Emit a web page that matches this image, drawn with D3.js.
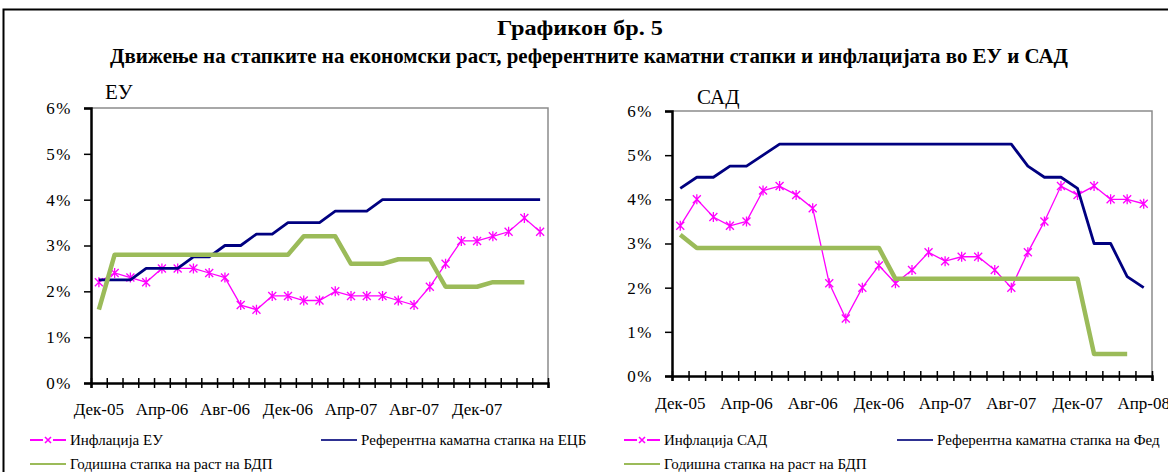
<!DOCTYPE html>
<html>
<head>
<meta charset="utf-8">
<script src="https://cdn.jsdelivr.net/npm/d3@7"></script>
<style>
  body { margin: 0; background: #fff; }
</style>
</head>
<body>
<svg id="canvas" width="1168" height="472"></svg>
<script>
const width = 1168;
const height = 472;

// monthly categories, Dec-05 .. Apr-08
const months = ["Дек-05","Јан-06","Фев-06","Мар-06","Апр-06","Мај-06","Јун-06","Јул-06","Авг-06","Сеп-06","Окт-06","Ное-06",
  "Дек-06","Јан-07","Фев-07","Мар-07","Апр-07","Мај-07","Јун-07","Јул-07","Авг-07","Сеп-07","Окт-07","Ное-07",
  "Дек-07","Јан-08","Фев-08","Мар-08","Апр-08"];

const euLabels = ["Дек-05","Апр-06","Авг-06","Дек-06","Апр-07","Авг-07","Дек-07"];
const usLabels = ["Дек-05","Апр-06","Авг-06","Дек-06","Апр-07","Авг-07","Дек-07","Апр-08"];
const yTicks = [0, 1, 2, 3, 4, 5, 6];

// ЕУ
const euInflation = [2.2,2.4,2.3,2.2,2.5,2.5,2.5,2.4,2.3,1.7,1.6,1.9,1.9,1.8,1.8,2.0,1.9,1.9,1.9,1.8,1.7,2.1,2.6,3.1,3.1,3.2,3.3,3.6,3.3];
const ecbRate = [2.25,2.25,2.25,2.5,2.5,2.5,2.75,2.75,3.0,3.0,3.25,3.25,3.5,3.5,3.5,3.75,3.75,3.75,4,4,4,4,4,4,4,4,4,4,4];
const euGdp = [1.6,2.8,2.8,2.8,2.8,2.8,2.8,2.8,2.8,2.8,2.8,2.8,2.8,3.2,3.2,3.2,2.6,2.6,2.6,2.7,2.7,2.7,2.1,2.1,2.1,2.2,2.2,2.2,null];

// САД
const usInflation = [3.4,4.0,3.6,3.4,3.5,4.2,4.3,4.1,3.8,2.1,1.3,2.0,2.5,2.1,2.4,2.8,2.6,2.7,2.7,2.4,2.0,2.8,3.5,4.3,4.1,4.3,4.0,4.0,3.9];
const fedRate = [4.25,4.5,4.5,4.75,4.75,5.0,5.25,5.25,5.25,5.25,5.25,5.25,5.25,5.25,5.25,5.25,5.25,5.25,5.25,5.25,5.25,4.75,4.5,4.5,4.25,3.0,3.0,2.25,2.0];
const usGdp = [3.2,2.9,2.9,2.9,2.9,2.9,2.9,2.9,2.9,2.9,2.9,2.9,2.9,2.2,2.2,2.2,2.2,2.2,2.2,2.2,2.2,2.2,2.2,2.2,2.2,0.5,0.5,0.5,null];

const pink = "#ff00ff";
const navy = "#000080";
const green = "#9bbb59";
const serif = "'Liberation Serif', 'Times New Roman', serif";

const svg = d3.select("#canvas");

// outer frame (runs off the right and bottom edge)
svg.append("rect")
  .attr("x", 3.5).attr("y", 9.5)
  .attr("width", 1300).attr("height", 600)
  .attr("fill", "none").attr("stroke", "#000").attr("stroke-width", 2);

svg.append("text")
  .attr("x", 580).attr("y", 35)
  .attr("text-anchor", "middle")
  .attr("font-size", 21).attr("font-weight", "bold")
  .attr("textLength", 166).attr("lengthAdjust", "spacingAndGlyphs")
  .text("Графикон бр. 5");

svg.append("text")
  .attr("x", 589).attr("y", 63)
  .attr("text-anchor", "middle")
  .attr("font-size", 21).attr("font-weight", "bold")
  .attr("textLength", 958).attr("lengthAdjust", "spacingAndGlyphs")
  .text("Движење на стапките на економски раст, референтните каматни стапки и инфлацијата во ЕУ и САД");

function starPath(r){
  return `M${-r},${-r}L${r},${r}M${-r},${r}L${r},${-r}M0,${-r-1}L0,${r+1}`;
}

function drawPanel(p){

  const g = svg.append("g");

  const x = d3.scaleBand().domain(months).range([p.left, p.right]);
  const y = d3.scaleLinear().domain([0, 6]).range([p.bottom, p.top]);
  const cx = d => x(d) + x.bandwidth()/2;

  // plot border: gray top and right
  g.append("path")
    .attr("d", `M${p.left},${p.top}H${p.right}V${p.bottom}`)
    .attr("fill", "none").attr("stroke", "#8c8c8c").attr("stroke-width", 1.5);

  // y axis
  const yAxis = g.append("g")
    .attr("transform", `translate(${p.left},0)`)
    .call(d3.axisLeft(y).tickValues(yTicks).tickSize(7).tickPadding(12).tickFormat(d => d + "%"));
  yAxis.select(".domain").attr("stroke", "#000").attr("stroke-width", 2.5);
  yAxis.selectAll(".tick line").attr("stroke-width", 1.5);
  yAxis.selectAll("text")
    .attr("font-size", 17)
    .attr("letter-spacing", 1.5).attr("fill", "#000");

  // x axis: ticks between categories
  const edge = d3.scaleLinear().domain([0, months.length]).range([p.left, p.right]);
  const xAxis = g.append("g")
    .attr("transform", `translate(0,${p.bottom})`)
    .call(d3.axisBottom(edge).tickValues(d3.range(months.length + 1)).tickSize(5).tickFormat(""));
  xAxis.select(".domain").attr("stroke-width", 2.5);
  xAxis.selectAll(".tick line").attr("y1", -5).attr("stroke-width", 1.5);

  g.append("g")
    .selectAll("text")
    .data(p.labels)
    .join("text")
    .attr("x", d => cx(d))
    .attr("y", p.labelY)
    .attr("text-anchor", "middle")
    .attr("font-size", 17)
    .text(d => d);

  g.append("text")
    .attr("x", p.titleX).attr("y", p.titleY)
    .attr("font-size", 21)
    .text(p.title);

  const line = d3.line()
    .defined(d => d.v != null)
    .x(d => cx(d.m))
    .y(d => y(d.v));

  const rows = vals => months.map((m, i) => ({m: m, v: vals[i]}));

  // inflation
  g.append("path")
    .attr("d", line(rows(p.inflation)))
    .attr("fill", "none").attr("stroke", pink).attr("stroke-width", 1.3);
  g.append("g")
    .selectAll("path")
    .data(rows(p.inflation))
    .join("path")
    .attr("transform", d => `translate(${cx(d.m)},${y(d.v)})`)
    .attr("d", starPath(4))
    .attr("fill", "none").attr("stroke", pink).attr("stroke-width", 1.3);

  // reference rate
  g.append("path")
    .attr("d", line(rows(p.rate)))
    .attr("fill", "none").attr("stroke", navy).attr("stroke-width", 2.8)
    .attr("stroke-linejoin", "round");

  // GDP growth
  g.append("path")
    .attr("d", line(rows(p.gdp)))
    .attr("fill", "none").attr("stroke", green).attr("stroke-width", 4.5)
    .attr("stroke-linejoin", "round");

  // legend
  const lg = g.append("g");
  const items = [
    {name: p.names[0], color: pink, x: p.legendX[0], y: 440, star: true},
    {name: p.names[1], color: "#2e3192", x: p.legendX[1], y: 440, star: false},
    {name: p.names[2], color: green, x: p.legendX[0], y: 464, star: false}
  ];
  items.forEach(d => {
    lg.append("line")
      .attr("x1", d.x).attr("x2", d.x + 36)
      .attr("y1", d.y).attr("y2", d.y)
      .attr("stroke", d.color).attr("stroke-width", 2);
    if (d.star) {
      lg.append("rect")
        .attr("x", d.x + 13).attr("y", d.y - 4).attr("width", 10).attr("height", 8)
        .attr("fill", "#fff");
      lg.append("path")
        .attr("transform", `translate(${d.x + 18},${d.y})`)
        .attr("d", "M-3,-3L3,3M-3,3L3,-3")
        .attr("stroke", d.color).attr("stroke-width", 1.6);
    }
    lg.append("text")
      .attr("x", d.x + 40).attr("y", d.y + 5)
      .attr("font-size", 15)
      .text(d.name);
  });
}

drawPanel({
  left: 91, right: 548, top: 108, bottom: 383,
  labels: euLabels, labelY: 415,
  title: "ЕУ", titleX: 105, titleY: 99,
  inflation: euInflation, rate: ecbRate, gdp: euGdp,
  names: ["Инфлација ЕУ", "Референтна каматна стапка на ЕЦБ", "Годишна стапка на раст на БДП"],
  legendX: [30, 321]
});

drawPanel({
  left: 672, right: 1152, top: 111, bottom: 376,
  labels: usLabels, labelY: 409,
  title: "САД", titleX: 697, titleY: 104,
  inflation: usInflation, rate: fedRate, gdp: usGdp,
  names: ["Инфлација САД", "Референтна каматна стапка на Фед", "Годишна стапка на раст на БДП"],
  legendX: [624, 897]
});

// serif everywhere, set inline so axis defaults don't win
svg.selectAll("g").attr("font-family", null);
svg.selectAll("text").style("font-family", serif);
</script>
</body>
</html>
